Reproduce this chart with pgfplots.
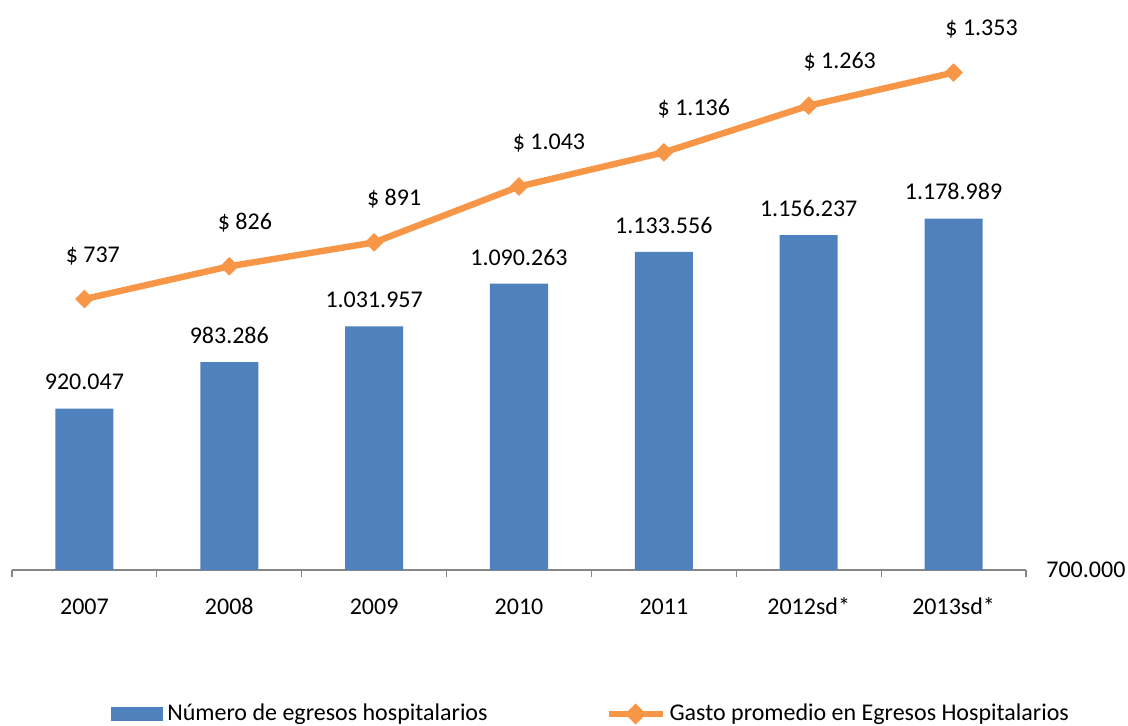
\documentclass[border=0pt]{standalone}
\usepackage{fontspec}
\setmainfont{Carlito}
\usepackage{pgfplots}
\pgfplotsset{compat=1.18}
\definecolor{barblue}{HTML}{4F81BD}
\definecolor{lineorange}{HTML}{F79646}
\definecolor{axisgray}{HTML}{868686}
\newcommand{\fs}{\fontsize{12}{14.4}\selectfont}

\begin{document}
\fs
\begin{tikzpicture}
\useasboundingbox (-6pt,-77.5pt) rectangle (558pt,285pt);
% bars: number of hospital discharges
\begin{axis}[
  width=507pt, height=275pt, scale only axis,
  xmin=-0.5, xmax=6.5,
  ymin=700000, ymax=1449600,
  scaled y ticks=false,
  axis x line*=bottom, axis y line*=right,
  x axis line style={draw=axisgray, line width=0.6pt, -},
  y axis line style={draw=none},
  xtick={-0.5,0.5,...,6.5},
  x tick label as interval,
  xticklabels={2007,2008,2009,2010,2011,2012sd*,2013sd*},
  x tick style={draw=axisgray, line width=0.6pt},
  tick align=outside, major tick length=3.5pt,
  xticklabel style={anchor=base, yshift=-18.7pt, font=\fs},
  ytick={700000}, yticklabels={700.000},
  y tick style={draw=none},
  yticklabel style={anchor=west, inner sep=0pt, xshift=6.5pt, font=\fs},
  legend columns=2,
  legend style={at={(0.0975,-0.2618)}, anchor=west, draw=none, fill=none,
    inner sep=0pt, font=\fs, nodes={inner xsep=2pt},
    /tikz/every even column/.append style={column sep=57pt}},
  legend cell align=left,
]
\addplot[ybar, bar width=29pt, fill=barblue, draw=none,
  nodes near coords, point meta=explicit symbolic,
  every node near coord/.append style={anchor=base, yshift=9.3pt, text=black, font=\fs},
  legend image code/.code={\fill[barblue] (0pt,-3.5pt) rectangle (26pt,3.5pt);}]
  table[meta=label] {
x y label
0 920047 920.047
1 983286 983.286
2 1031957 1.031.957
3 1090263 1.090.263
4 1133556 1.133.556
5 1156237 1.156.237
6 1178989 1.178.989
};
\addlegendentry{Número de egresos hospitalarios}
\addlegendimage{lineorange, line width=3pt,
  legend image code/.code={
    \draw[lineorange, line width=3pt] (0pt,0pt) -- (27pt,0pt);
    \fill[lineorange, rotate around={45:(13.5pt,0pt)}] (11.3pt,-2.2pt) rectangle (15.7pt,2.2pt);}}
\addlegendentry{Gasto promedio en Egresos Hospitalarios}
\end{axis}
% line: average expenditure
\begin{axis}[
  width=507pt, height=275pt, scale only axis,
  xmin=-0.5, xmax=6.5,
  ymin=0, ymax=1496,
  hide axis, clip=false,
]
\addplot[lineorange, line width=3.2pt, line join=round,
  mark=square*, mark size=3.1pt,
  mark options={rotate=45, line width=0.4pt, solid},
  nodes near coords={\$ \pgfplotspointmeta}, point meta=explicit symbolic,
  visualization depends on={\thisrow{dx}\as\dx},
  every node near coord/.append style={anchor=base, yshift=18.5pt, xshift=\dx pt, text=black, font=\fs}]
  table[meta=label] {
x y label dx
0 737 737 4.2
1 826 826 7.8
2 891 891 10
3 1043 1.043 15
4 1136 1.136 15
5 1263 1.263 15.5
6 1353 1.353 14
};
\end{axis}
\end{tikzpicture}
\end{document}
